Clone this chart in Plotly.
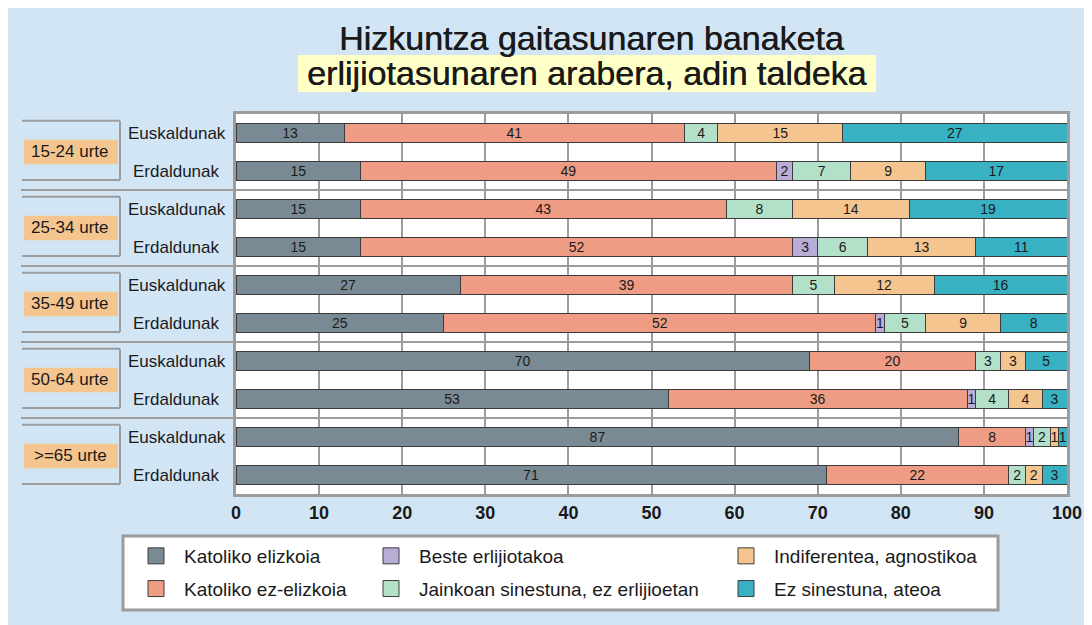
import plotly.graph_objects as go

# ---------------- data ----------------
groups = ["15-24 urte", "25-34 urte", "35-49 urte", "50-64 urte", ">=65 urte"]
speakers = ["Euskaldunak", "Erdaldunak"]

series_names = [
    "Katoliko elizkoia",
    "Katoliko ez-elizkoia",
    "Beste erlijiotakoa",
    "Jainkoan sinestuna, ez erlijioetan",
    "Indiferentea, agnostikoa",
    "Ez sinestuna, ateoa",
]

# bar lengths (%), rows top to bottom
kat_elizkoia    = [13, 15, 15, 15, 27, 25, 69, 52, 87, 71]
kat_ez_elizkoia = [41, 50, 44, 52, 40, 52, 20, 36, 8, 22]
beste           = [0, 2, 0, 3, 0, 1, 0, 1, 1, 0]
jainkoan        = [4, 7, 8, 6, 5, 5, 3, 4, 2, 2]
indiferentea    = [15, 9, 14, 13, 12, 9, 3, 4, 1, 2]
ez_sinestuna    = [27, 17, 19, 11, 16, 8, 5, 3, 1, 3]

# numbers printed on the bars (rounded values shown in the source)
kat_elizkoia_lbl    = [13, 15, 15, 15, 27, 25, 70, 53, 87, 71]
kat_ez_elizkoia_lbl = [41, 49, 43, 52, 39, 52, 20, 36, 8, 22]

x_ticks = [0, 10, 20, 30, 40, 50, 60, 70, 80, 90, 100]

colors = ["#7A8A94", "#EE9C84", "#B9ADD8", "#B3E0C9", "#F5C58F", "#38B1C3"]

series_values = [kat_elizkoia, kat_ez_elizkoia, beste, jainkoan, indiferentea, ez_sinestuna]
series_labels = [kat_elizkoia_lbl, kat_ez_elizkoia_lbl, beste, jainkoan, indiferentea, ez_sinestuna]

# ---------------- geometry helpers ----------------
W, H = 1092, 625
OFF = 8  # page margin around the figure
ML, MT = 228, 106
PW, PH = 831, 380
MR, MB = W - ML - PW, H - MT - PH


def px(x):  # page pixel -> paper x
    return (x - OFF - ML) / PW


def py(y):  # page pixel -> paper y
    return (H - MB - (y - OFF)) / PH


FONT = "Liberation Sans, Arial, Helvetica, sans-serif"
GRAY = "#9C9C9C"

row_keys = [f"{g}|{s}" for g in groups for s in speakers]
row_speakers = [s for g in groups for s in speakers]

fig = go.Figure()

for name, vals, lbls, col in zip(series_names, series_values, series_labels, colors):
    fig.add_trace(go.Bar(
        orientation="h",
        x=vals,
        y=row_keys,
        name=name,
        width=0.52,
        marker=dict(color=col, line=dict(color="#3C3C3C", width=1)),
        text=[str(v) if v else "" for v in lbls],
        textposition="inside",
        insidetextanchor="middle",
        textangle=0,
        constraintext="none",
        textfont=dict(family=FONT, size=14, color="#1A1A1A"),
        showlegend=False,
        hovertemplate=name + ": %{x}<extra></extra>",
    ))

# legend entries (three columns, each its own legend)
legend_of = ["legend", "legend", "legend2", "legend2", "legend3", "legend3"]
for name, col, lg in zip(series_names, colors, legend_of):
    fig.add_trace(go.Scatter(
        x=[None], y=[None], mode="markers", name=name, legend=lg,
        legendgroup=name,
        marker=dict(symbol="square", size=16, color=col, line=dict(color="#3C3C3C", width=1)),
        showlegend=True, hoverinfo="skip",
    ))

shapes = []
annotations = []

# title highlight box
shapes.append(dict(type="rect", xref="paper", yref="paper", x0=px(298), x1=px(876), y0=py(92), y1=py(55),
                   fillcolor="#FFFFC8", line=dict(width=0), layer="below"))

# group decorations
for gi, g in enumerate(groups):
    top = 2 * gi - 0.32
    bot = 2 * gi + 1 + 0.24
    mid = 2 * gi + 0.5
    xl, xr = px(22), px(120)
    shapes.append(dict(type="line", xref="paper", yref="y", x0=xl, x1=xr, y0=top, y1=top,
                       line=dict(color=GRAY, width=2)))
    shapes.append(dict(type="line", xref="paper", yref="y", x0=xr, x1=xr, y0=top, y1=bot,
                       line=dict(color=GRAY, width=2)))
    shapes.append(dict(type="line", xref="paper", yref="y", x0=xl, x1=xr, y0=bot, y1=bot,
                       line=dict(color=GRAY, width=2)))
    shapes.append(dict(type="rect", xref="paper", yref="y", x0=px(24), x1=px(118), y0=mid - 0.32, y1=mid + 0.32,
                       fillcolor="#F5C58F", line=dict(width=0), layer="below"))
    annotations.append(dict(xref="paper", yref="y", x=px(70), y=mid, text=g, showarrow=False,
                            xanchor="center", yanchor="middle", yshift=1,
                            font=dict(family=FONT, size=17, color="#1A1A1A")))
    if gi > 0:
        sep = 2 * gi - 0.5
        shapes.append(dict(type="line", xref="paper", yref="y", x0=px(21), x1=1, y0=sep, y1=sep,
                           line=dict(color=GRAY, width=2)))

# row labels (centered)
for key, sp in zip(row_keys, row_speakers):
    annotations.append(dict(xref="paper", yref="y", x=px(176.5), y=key, text=sp, showarrow=False,
                            xanchor="center", yanchor="middle",
                            font=dict(family=FONT, size=17, color="#1A1A1A")))

# legend frame
shapes.append(dict(type="rect", xref="paper", yref="paper", x0=px(123), x1=px(998), y0=py(610), y1=py(536),
                   fillcolor="white", line=dict(color=GRAY, width=3), layer="below"))

# titles
title_font = dict(family=FONT, size=34, color="#1A1A1A", shadow="0.4px 0 0 #1A1A1A")
annotations.append(dict(xref="paper", yref="paper", x=px(591), y=py(37.5), text="Hizkuntza gaitasunaren banaketa",
                        showarrow=False, xanchor="center", yanchor="middle", font=title_font))
annotations.append(dict(xref="paper", yref="paper", x=px(587), y=py(73.5),
                        text="erlijiotasunaren arabera, adin taldeka",
                        showarrow=False, xanchor="center", yanchor="middle", font=title_font))

leg_common = dict(orientation="v", yanchor="top", xanchor="left", bgcolor="rgba(0,0,0,0)",
                  borderwidth=0, itemwidth=46, tracegroupgap=5,
                  font=dict(family=FONT, size=19, color="#1A1A1A"), itemclick=False, itemdoubleclick=False)

fig.update_layout(
    width=W, height=H,
    margin=dict(l=ML, r=MR, t=MT, b=MB, pad=0),
    paper_bgcolor="#D2E5F4",
    plot_bgcolor="white",
    barmode="stack",
    font=dict(family=FONT, color="#1A1A1A"),
    xaxis=dict(range=[0, 100], tickvals=x_ticks, ticktext=[str(t) for t in x_ticks],
               showgrid=True, gridcolor=GRAY, gridwidth=2, zeroline=False,
               showline=True, linecolor=GRAY, linewidth=3, mirror=True,
               ticks="", tickfont=dict(family=FONT, size=18, color="#1A1A1A", weight="bold"),
               fixedrange=True),
    yaxis=dict(type="category", categoryorder="array", categoryarray=row_keys, range=[9.5, -0.5],
               showticklabels=False, ticks="", showgrid=False, zeroline=False,
               showline=True, linecolor=GRAY, linewidth=3, mirror=True, fixedrange=True),
    shapes=shapes,
    annotations=annotations,
    legend=dict(x=px(128), y=py(537), **leg_common),
    legend2=dict(x=px(363), y=py(537), **leg_common),
    legend3=dict(x=px(718), y=py(537), **leg_common),
)

fig.write_html("out.html")
